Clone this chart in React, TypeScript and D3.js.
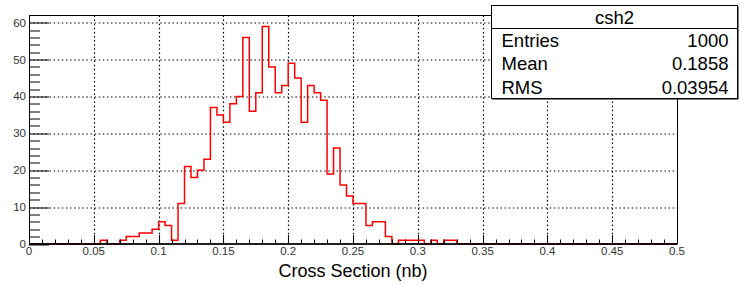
import React, { useEffect, useRef } from 'react';
import * as d3 from 'd3';

// histogram "csh2": 100 bins between 0 and 0.5
const histName = 'csh2';
const xMin = 0;
const xMax = 0.5;
const binCounts = [
    0, 0, 0, 0, 0, 0, 0, 0, 0, 0,
    0, 1, 0, 0, 1, 2, 2, 3, 3, 4,
    6, 5, 1, 11, 21, 18, 20, 23, 37, 35,
    33, 38, 40, 56, 36, 41, 59, 48, 41, 43,
    49, 45, 33, 43, 41, 39, 19, 26, 16, 13,
    11, 11, 5, 6, 6, 2, 0, 1, 1, 1,
    1, 0, 1, 0, 1, 1, 0, 0, 0, 0,
    0, 0, 0, 0, 0, 0, 0, 0, 0, 0,
    0, 0, 0, 0, 0, 0, 0, 0, 0, 0,
    0, 0, 0, 0, 0, 0, 0, 0, 0, 0
];

const xTickValues = [0, 0.05, 0.1, 0.15, 0.2, 0.25, 0.3, 0.35, 0.4, 0.45, 0.5];
const xTickLabels = ['0', '0.05', '0.1', '0.15', '0.2', '0.25', '0.3', '0.35', '0.4', '0.45', '0.5'];
const yTickValues = [0, 10, 20, 30, 40, 50, 60];
const yTickLabels = ['0', '10', '20', '30', '40', '50', '60'];
const xTitle = 'Cross Section (nb)';

const statNames = ['Entries', 'Mean', 'RMS'];
const statValues = ['1000', '0.1858', '0.03954'];

const FONT = '"Liberation Sans", Arial, Helvetica, sans-serif';

const App = () => {
    const svgRef = useRef(null);

    useEffect(() => {
        const svgWidth = 740;
        const svgHeight = 286;
        const margin = { top: 15.5, right: 63, bottom: 42, left: 29 };
        const width = svgWidth - margin.left - margin.right;
        const height = svgHeight - margin.top - margin.bottom;

        const svg = d3.select(svgRef.current)
            .attr('width', svgWidth)
            .attr('height', svgHeight);

        svg.selectAll('*').remove();

        svg.append('rect')
            .attr('width', svgWidth)
            .attr('height', svgHeight)
            .attr('fill', '#fff');

        const nBins = binCounts.length;
        const binWidth = (xMax - xMin) / nBins;
        const yMax = d3.max(binCounts) * 1.05;

        const x = d3.scaleLinear().domain([xMin, xMax]).range([0, width]);
        const y = d3.scaleLinear().domain([0, yMax]).range([height, 0]);

        const chart = svg.append('g')
            .attr('transform', `translate(${margin.left}, ${margin.top})`);

        // dotted grid
        chart.selectAll('.xgrid')
            .data(xTickValues.slice(1, -1))
            .enter()
            .append('line')
            .attr('x1', d => Math.round(x(d)) + 0.5)
            .attr('x2', d => Math.round(x(d)) + 0.5)
            .attr('y1', 0)
            .attr('y2', height)
            .attr('stroke', '#000')
            .attr('stroke-width', 1.2)
            .attr('stroke-dasharray', '1.5 2.6');

        chart.selectAll('.ygrid')
            .data(yTickValues.slice(1))
            .enter()
            .append('line')
            .attr('x1', 0)
            .attr('x2', width)
            .attr('y1', d => Math.round(y(d)) + 0.5)
            .attr('y2', d => Math.round(y(d)) + 0.5)
            .attr('stroke', '#000')
            .attr('stroke-width', 1.2)
            .attr('stroke-dasharray', '1.5 2.6');

        // histogram outline
        const steps = [];
        binCounts.forEach((c, i) => {
            steps.push([xMin + i * binWidth, c]);
            steps.push([xMin + (i + 1) * binWidth, c]);
        });
        const line = d3.line()
            .x(d => x(d[0]))
            .y(d => y(d[1]));

        chart.append('path')
            .datum([[xMin, 0], ...steps, [xMax, 0]])
            .attr('d', line)
            .attr('fill', 'none')
            .attr('stroke', '#ff0000')
            .attr('stroke-width', 1.5)
            .attr('stroke-linejoin', 'miter');

        // frame
        chart.append('rect')
            .attr('x', 0.5)
            .attr('y', 0)
            .attr('width', width)
            .attr('height', height)
            .attr('fill', 'none')
            .attr('stroke', '#000')
            .attr('stroke-width', 1);

        chart.append('line')
            .attr('x1', 0).attr('x2', width)
            .attr('y1', height).attr('y2', height)
            .attr('stroke', '#000')
            .attr('stroke-width', 1.5);

        // x ticks
        const xMinor = d3.range(0, 51).map(i => i * 0.01);
        chart.selectAll('.xtick')
            .data(xMinor)
            .enter()
            .append('line')
            .attr('x1', d => Math.round(x(d)) + 0.5)
            .attr('x2', d => Math.round(x(d)) + 0.5)
            .attr('y1', height)
            .attr('y2', (d, i) => height - (i % 5 === 0 ? 9 : 4.5))
            .attr('stroke', '#000');

        // y ticks
        const yMinor = d3.range(0, 31).map(i => i * 2).filter(v => v <= yMax);
        chart.selectAll('.ytick')
            .data(yMinor)
            .enter()
            .append('line')
            .attr('x1', 0)
            .attr('x2', (d, i) => (i % 5 === 0 ? 20 : 11))
            .attr('y1', d => Math.round(y(d)) + 0.5)
            .attr('y2', d => Math.round(y(d)) + 0.5)
            .attr('stroke', '#000');

        // tick labels
        chart.selectAll('.xlabel')
            .data(xTickValues)
            .enter()
            .append('text')
            .attr('x', d => x(d))
            .attr('y', height + 11)
            .attr('text-anchor', 'middle')
            .attr('font-family', FONT)
            .attr('font-size', 11.5)
            .attr('fill', '#333')
            .text((d, i) => xTickLabels[i]);

        chart.selectAll('.ylabel')
            .data(yTickValues)
            .enter()
            .append('text')
            .attr('x', -3)
            .attr('y', d => y(d) + 4)
            .attr('text-anchor', 'end')
            .attr('font-family', FONT)
            .attr('font-size', 11.5)
            .attr('fill', '#333')
            .text((d, i) => yTickLabels[i]);

        // axis title
        chart.append('text')
            .attr('x', width / 2)
            .attr('y', height + 33)
            .attr('text-anchor', 'middle')
            .attr('font-family', FONT)
            .attr('font-size', 18)
            .attr('fill', '#000')
            .text(xTitle);

        // stats box
        const box = svg.append('g').attr('transform', 'translate(491.5, 5.5)');
        const boxW = 246;
        const boxH = 93;
        const rowH = boxH / (statNames.length + 1);

        box.append('rect')
            .attr('x', 1).attr('y', 1)
            .attr('width', boxW).attr('height', boxH)
            .attr('fill', '#000');
        box.append('rect')
            .attr('width', boxW).attr('height', boxH)
            .attr('fill', '#fff')
            .attr('stroke', '#000');
        box.append('line')
            .attr('x1', 0).attr('x2', boxW)
            .attr('y1', Math.round(rowH)).attr('y2', Math.round(rowH))
            .attr('stroke', '#000');

        box.append('text')
            .attr('x', boxW / 2)
            .attr('y', rowH - 5)
            .attr('text-anchor', 'middle')
            .attr('font-family', FONT)
            .attr('font-size', 18.5)
            .text(histName);

        statNames.forEach((name, i) => {
            box.append('text')
                .attr('x', 10)
                .attr('y', rowH * (i + 2) - 5)
                .attr('font-family', FONT)
                .attr('font-size', 18.5)
                .text(name);
            box.append('text')
                .attr('x', boxW - 9)
                .attr('y', rowH * (i + 2) - 5)
                .attr('text-anchor', 'end')
                .attr('font-family', FONT)
                .attr('font-size', 18.5)
                .text(statValues[i]);
        });
    }, []);

    return (
        <svg ref={svgRef} style={{ position: 'absolute', left: 0, top: 0, display: 'block' }}></svg>
    );
};

export default App;
